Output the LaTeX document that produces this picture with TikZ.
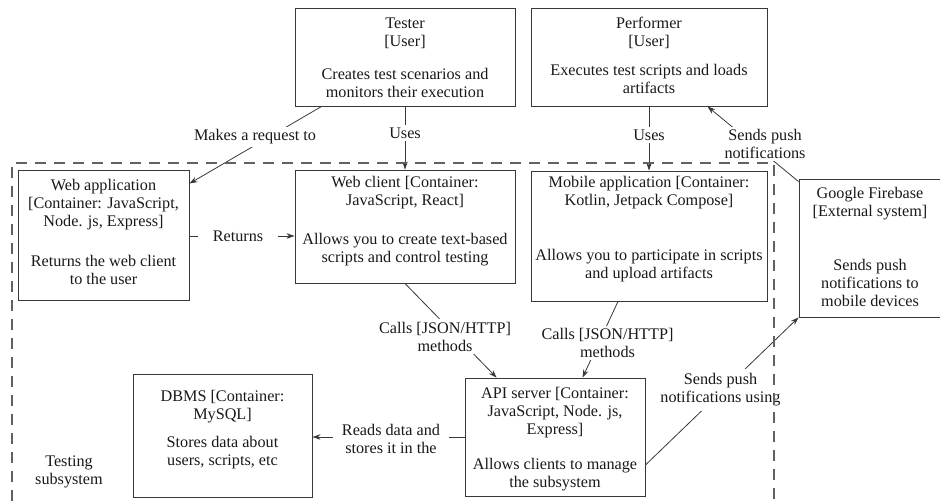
\documentclass[tikz,border=0pt]{standalone}
\usepackage{fontspec}
\setmainfont{Liberation Serif}
\usetikzlibrary{arrows.meta,calc}
\begin{document}
\begin{tikzpicture}[x=1pt,y=-1pt,
  every node/.style={font=\fontsize{16.2}{18}\selectfont, text=black!90},
  box/.style={draw=black!78, line width=0.9pt, rectangle, inner sep=0pt},
  txt/.style={align=center, inner sep=0pt, anchor=north},
  lbl/.style={fill=white, align=center, inner sep=2.5pt},
  conn/.style={draw=black!78, line width=0.8pt},
  arr/.style={conn, -{Stealth[length=8pt,width=5.5pt]}},
  bound/.style={draw=black!62, line width=1.1pt, dash pattern=on 11pt off 8pt}
]
\useasboundingbox (0,0) rectangle (940,501);
\clip (0,0) rectangle (940,501);

% boxes
\node[box, minimum width=220pt, minimum height=98pt] (tester) at (405,57) {};
\node[box, minimum width=236pt, minimum height=98pt] (performer) at (649,57) {};
\node[box, minimum width=171pt, minimum height=130pt] (webapp) at (103.5,235) {};
\node[box, minimum width=220pt, minimum height=113pt] (webclient) at (405,226.5) {};
\node[box, minimum width=236pt, minimum height=130pt] (mobile) at (649,236) {};
\node[box, minimum width=142pt, minimum height=138pt] (firebase) at (870,248) {};
\node[box, minimum width=179pt, minimum height=123pt] (dbms) at (222.5,435.5) {};
\node[box, minimum width=180pt, minimum height=118pt] (api) at (555,437) {};

% box texts
\node[txt] (testertxt) at (405,16) {\strut Tester\\{}[User]\\[15pt]Creates test scenarios and\\monitors their execution};
\node[txt] (performertxt) at (649,16) {\strut Performer\\{}[User]\\[11pt]Executes test scripts and loads\\artifacts};
\node[txt] (webapptxt) at (103.5,178) {\strut Web application\\{}[Container: JavaScript,\\Node. js, Express]\\[22pt]Returns the web client\\to the user};
\node[txt] (webclienttxt) at (405,175) {\strut Web client [Container:\\JavaScript, React]\\[21pt]Allows you to create text-based\\scripts and control testing};
\node[txt] (mobiletxt) at (649,175) {\strut Mobile application [Container:\\Kotlin, Jetpack Compose]\\[37pt]Allows you to participate in scripts\\and upload artifacts};
\node[txt] (firebasetxt) at (870,186) {\strut Google Firebase\\{}[External system]\\[36pt]Sends push\\notifications to\\mobile devices};
\node[txt] (dbmstxt) at (222.5,389) {\strut DBMS [Container:\\MySQL]\\[10pt]Stores data about\\users, scripts, etc};
\node[txt] (apitxt) at (555,386) {\strut API server [Container:\\JavaScript, Node. js,\\Express]\\[17pt]Allows clients to manage\\the subsystem};
\node[txt] (testingtxt) at (69,454) {\strut Testing\\subsystem};

% connector end points
\coordinate (t1) at ([xshift=27pt]tester.south west);
\coordinate (w1) at ([yshift=-14pt]webapp.north east);
\coordinate (f1) at ([yshift=-3pt]firebase.north west);
\coordinate (p1) at ([xshift=-60pt]performer.south east);
\coordinate (a1) at ([xshift=32pt]api.north west);
\coordinate (m1) at ([xshift=-31pt]mobile.south);
\coordinate (a2) at ([xshift=118pt]api.north west);
\coordinate (a3) at ([yshift=-28pt]api.east);
\coordinate (r1) at (webapp.east |- 0,236);
\coordinate (r2) at (webclient.west |- 0,236);

% connectors
\draw[arr] (t1) -- (w1);
\draw[arr] (tester.south) -- (webclient.north);
\draw[arr] (performer.south) -- (mobile.north);
\draw[arr] (f1) -- (p1);
\draw[arr] (r1) -- (r2);
\draw[arr] (webclient.south) -- (a1);
\draw[arr] (m1) -- (a2);
\draw[arr] (api.west) -- (api.west -| dbms.east);
\draw[arr] (a3) -- (firebase.south west);

% connector labels
\node[lbl] (l1) at (255,137) {Makes a request to};
\node[lbl] (l2) at (405,133) {Uses};
\node[lbl] (l3) at (649,135) {Uses};
\node[lbl] (l4) at (765,144) {Sends push\\notifications};
\node[lbl, inner xsep=15pt] (l5) at (238,236) {Returns};
\node[lbl] (l6) at (445,336.5) {Calls [JSON/HTTP]\\methods};
\node[lbl] (l7) at (607.5,343) {Calls [JSON/HTTP]\\methods};
\node[lbl, inner xsep=8.5pt] (l8) at (391,439) {Reads data and\\stores it in the};
\node[lbl, inner ysep=5pt] (l9) at (720.5,390) {Sends push\\notifications using};

% subsystem boundary
\draw[bound] (12,520) -- (12,163) -- (774,163) -- (774,520);
\end{tikzpicture}
\end{document}
